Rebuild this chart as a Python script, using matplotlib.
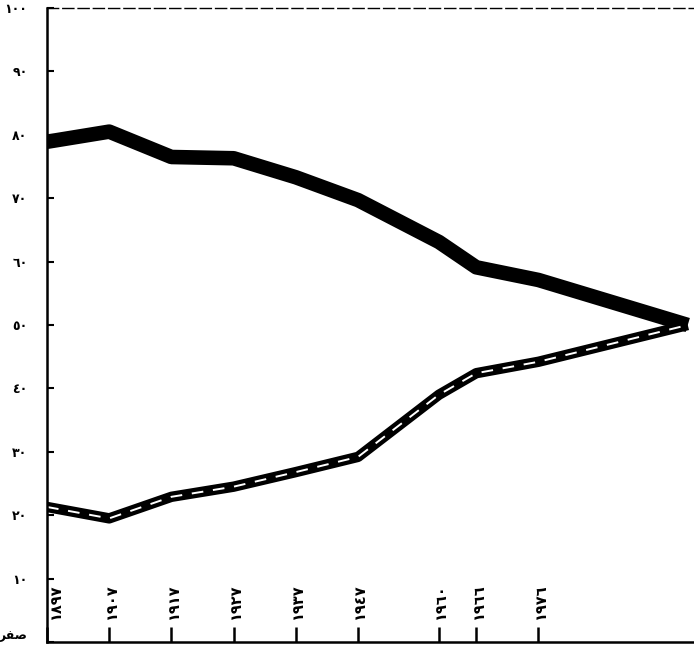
import matplotlib
matplotlib.use("Agg")
import matplotlib.pyplot as plt

# census years (x) and the two percentage curves
years = [1897, 1907, 1917, 1927, 1937, 1947, 1960, 1966, 1976, 2000]
upper = [78.9, 80.5, 76.5, 76.3, 73.3, 69.7, 63.1, 59.1, 57.1, 50.0]
lower = [21.3, 19.5, 22.9, 24.5, 26.8, 29.2, 39.0, 42.4, 44.2, 50.0]

year_ticks = [1897, 1907, 1917, 1927, 1937, 1947, 1960, 1966, 1976]
year_labels = ["١٨٩٧", "١٩٠٧", "١٩١٧", "١٩٢٧", "١٩٣٧", "١٩٤٧", "١٩٦٠", "١٩٦٦", "١٩٧٦"]
y_ticks = [0, 10, 20, 30, 40, 50, 60, 70, 80, 90, 100]
y_labels = ["\ufeae\ufed4\ufebb", "١٠", "٢٠", "٣٠", "٤٠", "٥٠", "٦٠", "٧٠", "٨٠", "٩٠", "١٠٠"]

plt.rcParams['font.family'] = ['DejaVu Sans']

fig = plt.figure(figsize=(6.94, 6.48), dpi=100)
ax = fig.add_axes([47 / 694, 6 / 648, 647 / 694, 634 / 648])

ax.plot(years, upper, color="black", lw=10.5, solid_capstyle="butt", solid_joinstyle="round")
ax.plot(years, lower, color="black", lw=7.5, solid_capstyle="butt", solid_joinstyle="round")
ax.plot(years, lower, color="white", lw=1.4, ls=(0, (6, 5)))

ax.set_xlim(1897, 2001)
ax.set_ylim(0, 100)

ax.set_yticks(y_ticks)
ax.set_yticklabels(y_labels, fontsize=9, fontweight="bold")
ax.tick_params(axis="y", direction="in", length=5, width=1.5, pad=14)
ax.get_yticklabels()[0].set_va("bottom")

ax.set_xticks(year_ticks)
ax.set_xticklabels([])
ax.tick_params(axis="x", direction="in", length=10.5, width=1.8)
for i, (yr, lab) in enumerate(zip(year_ticks, year_labels)):
    dx = 1.3 if i == 0 else 0.3
    ax.text(yr + dx, 3.6, lab, rotation=90, ha="center", va="bottom", fontsize=10.5, fontweight="bold")

ax.spines["left"].set_linewidth(1.8)
ax.spines["bottom"].set_linewidth(1.8)
ax.spines["right"].set_visible(False)
ax.spines["top"].set_linestyle((0, (8, 3)))
ax.spines["top"].set_linewidth(1.0)

fig.savefig("out.png", dpi=100)
